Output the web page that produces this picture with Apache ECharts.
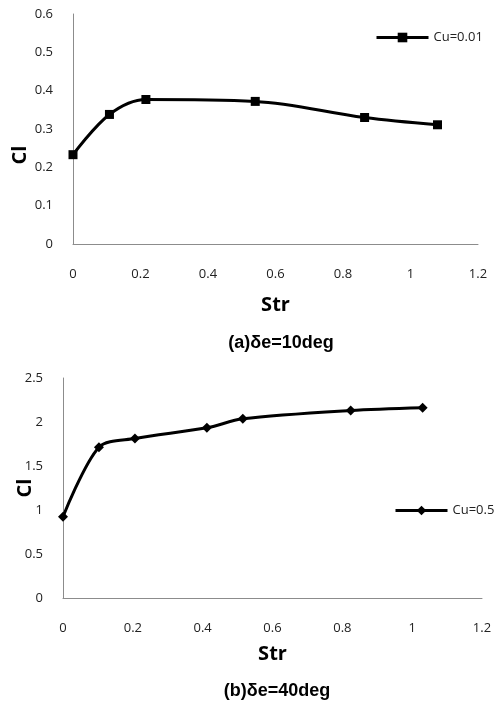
<!DOCTYPE html>
<html>
<head>
<meta charset="utf-8">
<script src="https://cdn.jsdelivr.net/npm/echarts@6/dist/echarts.min.js"></script>
<style>
    body { margin: 0; background: #ffffff; }
    #main { width: 496px; height: 704px; }
</style>
</head>
<body>
<div id="main"></div>
<script>
// (a) delta e = 10deg
var strA = [0, 0.108, 0.216, 0.54, 0.864, 1.08];
var clA = [0.233, 0.338, 0.377, 0.372, 0.330, 0.311];
// (b) delta e = 40deg
var strB = [0, 0.103, 0.206, 0.412, 0.515, 0.824, 1.03];
var clB = [0.923, 1.714, 1.812, 1.934, 2.036, 2.131, 2.162];

var seriesNames = ['Cu=0.01', 'Cu=0.5'];
var captions = ['(a)δe=10deg', '(b)δe=40deg'];

function pairs(xs, ys) {
    return xs.map(function(x, i) { return [x, ys[i]]; });
}

var tickFont = { fontFamily: 'Open Sans', fontSize: 13, color: '#222' };
var nameFont = { fontFamily: 'Open Sans', fontSize: 20, fontWeight: 'bold', color: '#000' };
var capFont = { fontFamily: 'Liberation Sans', fontSize: 18, fontWeight: 'bold', color: '#000' };
var axisLine = { show: true, lineStyle: { color: '#8c8c8c', width: 1 } };

var chart = echarts.init(document.getElementById('main'));

var option = {
    backgroundColor: '#ffffff',
    animation: false,
    title: [
        { text: captions[0], left: 276, top: 329, textAlign: 'center', textStyle: capFont },
        { text: captions[1], left: 272, top: 677, textAlign: 'center', textStyle: capFont }
    ],
    legend: [
        { data: [seriesNames[0]], left: 370, top: 26, itemWidth: 52, itemHeight: 12, itemGap: 0,
          lineStyle: { width: 3 },
          textStyle: { fontFamily: 'Open Sans', fontSize: 13, color: '#222' } },
        { data: [seriesNames[1]], left: 389, top: 499, itemWidth: 52, itemHeight: 12, itemGap: 0,
          lineStyle: { width: 3 },
          textStyle: { fontFamily: 'Open Sans', fontSize: 13, color: '#222' } }
    ],
    grid: [
        { left: 73, top: 14, right: 18, height: 230, outerBoundsMode: 'none' },
        { left: 63, top: 378, right: 14, height: 220, outerBoundsMode: 'none' }
    ],
    xAxis: [
        { type: 'value', gridIndex: 0, min: 0, max: 1.2, interval: 0.2,
          name: 'Str', nameLocation: 'middle', nameGap: 51, nameTextStyle: nameFont,
          nameMoveOverlap: false,
          axisLine: axisLine, axisTick: { show: false }, splitLine: { show: false },
          axisLabel: Object.assign({ margin: 24 }, tickFont) },
        { type: 'value', gridIndex: 1, min: 0, max: 1.2, interval: 0.2,
          name: 'Str', nameLocation: 'middle', nameGap: 46, nameTextStyle: nameFont,
          nameMoveOverlap: false,
          axisLine: axisLine, axisTick: { show: false }, splitLine: { show: false },
          axisLabel: Object.assign({ margin: 24 }, tickFont) }
    ],
    yAxis: [
        { type: 'value', gridIndex: 0, min: 0, max: 0.6, interval: 0.1,
          name: 'Cl', nameLocation: 'middle', nameGap: 43, nameMoveOverlap: false,
          nameTextStyle: Object.assign({ padding: [0, 52, 0, 0] }, nameFont),
          axisLine: axisLine, axisTick: { show: false }, splitLine: { show: false },
          axisLabel: Object.assign({ margin: 20 }, tickFont) },
        { type: 'value', gridIndex: 1, min: 0, max: 2.5, interval: 0.5,
          name: 'Cl', nameLocation: 'middle', nameGap: 28, nameMoveOverlap: false,
          nameTextStyle: nameFont,
          axisLine: axisLine, axisTick: { show: false }, splitLine: { show: false },
          axisLabel: Object.assign({ margin: 20 }, tickFont) }
    ],
    series: [
        {
            name: seriesNames[0],
            type: 'line',
            xAxisIndex: 0, yAxisIndex: 0,
            data: pairs(strA, clA),
            smooth: 0.35,
            symbol: 'rect',
            symbolSize: 9,
            lineStyle: { color: '#000', width: 3 },
            itemStyle: { color: '#000' }
        },
        {
            name: seriesNames[1],
            type: 'line',
            xAxisIndex: 1, yAxisIndex: 1,
            data: pairs(strB, clB),
            smooth: 0.3,
            symbol: 'diamond',
            symbolSize: 10,
            lineStyle: { color: '#000', width: 3 },
            itemStyle: { color: '#000' }
        }
    ]
};

chart.setOption(option);
</script>
</body>
</html>
